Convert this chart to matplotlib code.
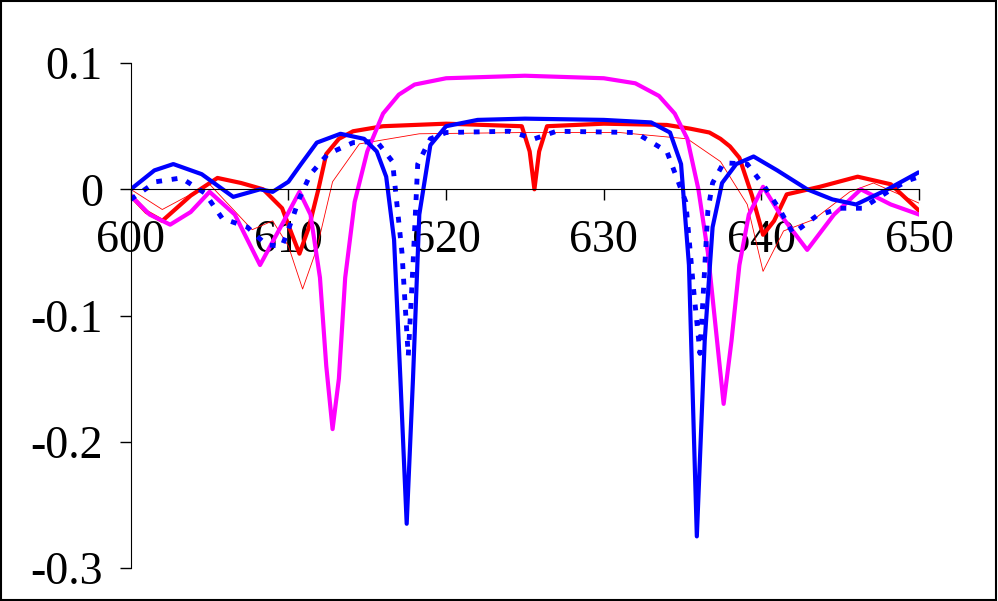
import numpy as np
import matplotlib.pyplot as plt
from matplotlib.patches import Rectangle

plt.rcParams['font.family'] = ['Liberation Serif', 'DejaVu Serif']

# blue solid
blue_x = [600, 601.5, 602.7, 604.5, 606.5, 608.2, 609.0, 610.0, 610.8, 611.8, 613.3, 614.8, 615.6, 616.2, 616.7, 617.1,
          617.5, 617.9, 618.3, 619.0, 620, 622, 625, 630, 633, 634.2, 634.9, 635.4, 635.9, 636.4, 636.9, 637.5, 638.4,
          639.5, 641.0, 642.9, 644.5, 646.0, 648.0, 649.9]
blue_y = [0.0, 0.015, 0.020, 0.012, -0.006, 0.0, -0.002, 0.006, 0.020, 0.037, 0.044, 0.040, 0.030, 0.010, -0.04, -0.15,
          -0.265, -0.15, -0.02, 0.035, 0.050, 0.055, 0.056, 0.055, 0.053, 0.045, 0.020, -0.06, -0.275, -0.12, -0.03, 0.005, 0.020,
          0.026, 0.015, 0.0, -0.008, -0.012, 0.0, 0.013]

# blue dotted
dot_x = [600, 601.6, 603.2, 604.7, 605.8, 607.4, 608.6, 609.6, 610.2, 610.7, 611.4, 612.5, 614.1, 615.6, 616.6,
         617.2, 617.6, 617.9, 618.2, 619, 620, 624, 625.6, 627, 632, 634, 635.2, 635.7, 636.1, 636.6, 636.9, 637.6,
         639.1, 640.2, 641.2, 642.0, 643.5, 645.0, 646.4, 648.0, 649.3, 650]
dot_y = [-0.008, 0.006, 0.009, -0.003, -0.023, -0.030, -0.044, -0.045, -0.025, -0.007, 0.012, 0.028, 0.037, 0.038, 0.022,
         -0.05, -0.132, -0.06, 0.02, 0.040, 0.045, 0.046, 0.040, 0.046, 0.045, 0.030, -0.01, -0.08, -0.13, -0.017, 0.005, 0.021,
         0.020, 0.002, -0.017, -0.035, -0.021, -0.015, -0.015, -0.002, 0.007, 0.010]

# red thick
red_x = [600, 601.0, 602.0, 603.8, 605.5, 607.0, 608.4, 609.6, 610.2, 610.7, 611.3, 611.9, 612.4, 613.2, 614.1, 616, 620,
         624.8, 625.3, 625.6, 625.9, 626.4, 630, 634, 635.5, 636.7, 637.4, 638.0, 638.6, 639.4, 640.1, 640.8, 641.6,
         643.7, 646.1, 648.2, 650]
red_y = [-0.005, -0.018, -0.025, -0.005, 0.009, 0.005, 0.0, -0.015, -0.035, -0.051, -0.030, 0.0, 0.028, 0.040, 0.046, 0.050,
         0.052, 0.050, 0.03, 0.0, 0.03, 0.050, 0.052, 0.051, 0.048, 0.045, 0.040, 0.034, 0.025, -0.005, -0.036, -0.025, -0.004,
         0.002, 0.010, 0.004, -0.017]

# red thin
thin_x = [600, 602.0, 605.0, 607.7, 609.0, 610.0, 610.9, 611.8, 612.8, 614.5, 618.3, 625, 631, 635.3, 637.4,
          639.1, 640.1, 641.4, 643.3, 645.6, 647.1, 650]
thin_y = [0.0, -0.016, 0.004, -0.032, -0.025, -0.045, -0.079, -0.047, 0.006, 0.036, 0.044, 0.045, 0.045, 0.040, 0.022,
          -0.012, -0.065, -0.033, -0.024, -0.002, 0.005, -0.011]

# magenta
mag_x = [600, 601.2, 602.5, 603.8, 605.0, 606.6, 608.2, 609.5, 610.7, 611.4, 612.0, 612.4, 612.8, 613.2, 613.6, 614.2,
         615, 616, 617, 618, 620, 625, 630, 632, 633.5, 634.5, 635.3, 636.0, 636.6, 637.1, 637.6, 638.1, 638.6, 639.2,
         640.1, 641.2, 642.9, 644.6, 646.3, 648.2, 650]
mag_y = [-0.005, -0.020, -0.028, -0.018, -0.002, -0.020, -0.060, -0.030, -0.002, -0.020, -0.070, -0.14, -0.19, -0.15, -0.07,
         -0.01, 0.03, 0.060, 0.075, 0.083, 0.088, 0.090, 0.088, 0.084, 0.074, 0.060, 0.040, 0.0, -0.05, -0.11, -0.17, -0.12,
         -0.06, -0.02, 0.002, -0.020, -0.048, -0.020, 0.0, -0.012, -0.020]

fig = plt.figure(figsize=(9.98, 6.01), dpi=100)
ax = fig.add_axes([0.131, 0.055, 0.79, 0.84])

ax.plot(thin_x, thin_y, color='red', lw=0.6)
ax.plot(red_x, red_y, color='red', lw=3)
ax.plot(mag_x, mag_y, color='magenta', lw=3)
ax.plot(dot_x, dot_y, color='blue', lw=3.5, ls=(0, (1.2, 2)))
ax.plot(blue_x, blue_y, color='blue', lw=3)

ax.set_xlim(600, 650)
ax.set_ylim(-0.3, 0.1)
ax.set_xticks([600, 610, 620, 630, 640, 650])
ax.set_yticks([-0.3, -0.2, -0.1, 0, 0.1])
ax.set_yticklabels(['-0.3', '-0.2', '-0.1', '0', '0.1'])
ax.spines['top'].set_visible(False)
ax.spines['right'].set_visible(False)
ax.spines['bottom'].set_position(('data', 0))
ax.tick_params(axis='both', direction='out', length=8, width=1, labelsize=33)
ax.tick_params(axis='x', pad=14)
ax.tick_params(axis='y', pad=12)

fig.patches.append(Rectangle((0.001, 0.001), 0.997, 0.997, transform=fig.transFigure,
                             fill=False, edgecolor='black', lw=1.5))

fig.savefig('out.png', dpi=100)
